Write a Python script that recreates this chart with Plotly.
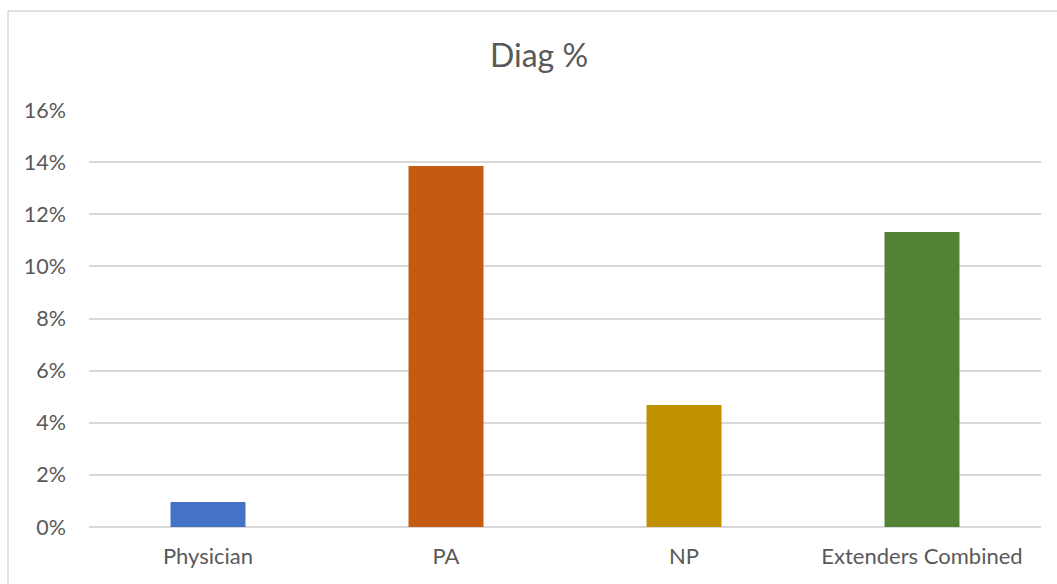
import plotly.graph_objects as go

# Diagnosis rate by provider type
categories = ["Physician", "PA", "NP", "Extenders Combined"]
diag_pct = [0.0096, 0.1385, 0.0468, 0.1132]
bar_colors = ["#4472C4", "#C55A11", "#BF9000", "#548235"]
tick_vals = [0, 0.02, 0.04, 0.06, 0.08, 0.10, 0.12, 0.14, 0.16]
tick_text = ["0%", "2%", "4%", "6%", "8%", "10%", "12%", "14%", "16%"]

W, H = 1057, 584
ml, mr, mt, mb = 89, 16, 110, 57
pw, ph = W - ml - mr, H - mt - mb

fig = go.Figure(
    go.Bar(
        x=categories,
        y=diag_pct,
        marker=dict(color=bar_colors, line=dict(width=0)),
        width=0.315,
        hoverinfo="x+y",
    )
)

# chart-area frame
x0 = (8 - ml) / pw
y1 = 1 + (mt - 11) / ph
fig.add_shape(
    type="rect", xref="paper", yref="paper",
    x0=x0, x1=1 + (mr + 10) / pw, y0=-(mb + 10) / ph, y1=y1,
    line=dict(color="#D9D9D9", width=1.5), fillcolor="rgba(0,0,0,0)",
    layer="below",
)

fig.update_layout(
    width=W, height=H,
    margin=dict(l=ml, r=mr, t=mt, b=mb),
    paper_bgcolor="white", plot_bgcolor="white",
    font=dict(family="Lato, Open Sans, sans-serif", color="#595959", size=21),
    title=dict(text="Diag %", x=539 / W, xref="container", xanchor="center",
               y=1 - 56 / H, yanchor="middle",
               font=dict(size=32, color="#595959")),
    showlegend=False,
    xaxis=dict(showgrid=False, showline=False, ticks="", tickfont=dict(size=22),
               ticklabelstandoff=14),
    yaxis=dict(range=[0, 0.16], tickvals=tick_vals, ticktext=tick_text,
               showgrid=True, gridcolor="#D9D9D9", gridwidth=1.5,
               zeroline=True, zerolinecolor="#D9D9D9", zerolinewidth=1.5,
               showline=False, ticks="", tickfont=dict(size=21.5),
               ticklabelstandoff=22),
)

fig.write_html("out.html")
